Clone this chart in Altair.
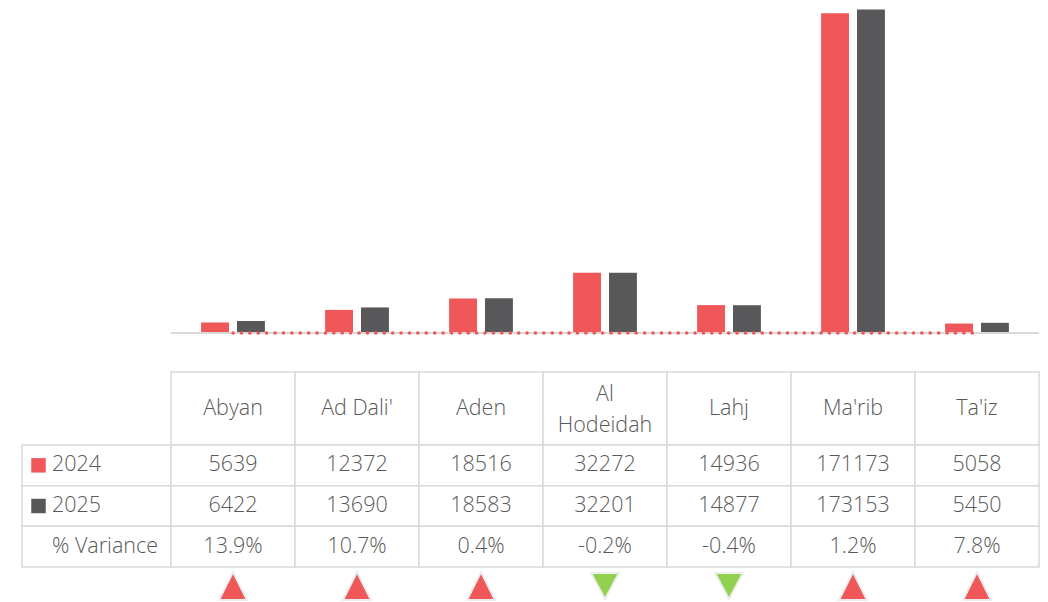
import altair as alt
import pandas as pd

# ---- data ----
regions = ["Abyan", "Ad Dali'", "Aden", "Al Hodeidah", "Lahj", "Ma'rib", "Ta'iz"]
values_2024 = [5639, 12372, 18516, 32272, 14936, 171173, 5058]
values_2025 = [6422, 13690, 18583, 32201, 14877, 173153, 5450]
variance_pct = [13.9, 10.7, 0.4, -0.2, -0.4, 1.2, 7.8]
years = ["2024", "2025"]
row_names = ["2024", "2025", "% Variance"]

# ---- styles ----
RED = "#EF5759"
DARK = "#58585A"
GREEN = "#92D050"
GRID = "#D9D9D9"
TEXT = "#595959"
FONT = "Open Sans"
FS = 21.5
W = 868

bars_df = pd.DataFrame({
    "region": regions * 2,
    "year": [years[0]] * len(regions) + [years[1]] * len(regions),
    "value": values_2024 + values_2025,
})
var_df = pd.DataFrame({"region": regions, "variance": [v / 100 for v in variance_pct]})

cells = []
for r, a, b, v in zip(regions, values_2024, values_2025, variance_pct):
    cells.append({"region": r, "row": row_names[0], "text": str(a)})
    cells.append({"region": r, "row": row_names[1], "text": str(b)})
    cells.append({"region": r, "row": row_names[2], "text": f"{v:.1f}%"})
cells_df = pd.DataFrame(cells)
hdr_df = pd.DataFrame({"region": regions})
lab_df = pd.DataFrame({"row": row_names})

x_scale = alt.Scale(domain=regions, paddingInner=0, paddingOuter=0)
color_scale = alt.Scale(domain=years, range=[RED, DARK])

# ---- top: grouped bars ----
bars = alt.Chart(bars_df).mark_bar().encode(
    x=alt.X("region:N", scale=x_scale, axis=None),
    xOffset=alt.XOffset("year:N", scale=alt.Scale(domain=years, paddingInner=0.222, paddingOuter=0.839)),
    y=alt.Y("value:Q", scale=alt.Scale(domain=[0, 174000], nice=False), axis=None),
    color=alt.Color("year:N", scale=color_scale, legend=None),
)
base_rule = alt.Chart(hdr_df).mark_rule(color=GRID, strokeWidth=1.5).encode(y=alt.datum(0))
var_line = alt.Chart(var_df).mark_line(
    color=RED, strokeWidth=3.5, strokeDash=[0.1, 8.3], strokeCap="round"
).encode(
    x=alt.X("region:N", scale=x_scale, axis=None),
    y=alt.Y("variance:Q"),
)
top = alt.layer(bars, base_rule, var_line).properties(width=W, height=325)

# ---- bottom: data table ----
tx = alt.X("region:N", scale=x_scale, axis=None)
ty = alt.Y("row:N", scale=alt.Scale(domain=row_names, paddingInner=0, paddingOuter=0), axis=None)
cell_style = dict(fill="white", stroke=GRID, strokeWidth=1.5)
text_style = dict(font=FONT, fontSize=FS, fontWeight=300, color=TEXT)

body_cells = alt.Chart(cells_df).mark_rect(**cell_style).encode(x=tx, y=ty)
body_text = alt.Chart(cells_df).mark_text(**text_style).encode(x=tx, y=ty, text="text:N")

hdr_cells = alt.Chart(hdr_df).mark_rect(**cell_style).encode(
    x=tx, y=alt.value(-73), y2=alt.value(0)
)
hdr_base = alt.Chart(hdr_df).transform_calculate(
    label="replace(datum.region, 'Al ', 'Al\\n')"
)
hdr_text1 = hdr_base.transform_filter("indexof(datum.label, '\\n') < 0").mark_text(
    **text_style
).encode(x=tx, y=alt.value(-36.5), text="label:N")
hdr_text2 = hdr_base.transform_filter("indexof(datum.label, '\\n') >= 0").mark_text(
    lineBreak="\n", lineHeight=31, **text_style
).encode(x=tx, y=alt.value(-50), text="label:N")

lab_cells = alt.Chart(lab_df).mark_rect(**cell_style).encode(
    x=alt.value(-149), x2=alt.value(0), y=ty
)
lab_sq = alt.Chart(lab_df).transform_filter(
    alt.FieldOneOfPredicate(field="row", oneOf=years)
).mark_square(size=210, opacity=1).encode(
    x=alt.value(-132.5), y=ty, color=alt.Color("row:N", scale=color_scale, legend=None)
)
lab_text = alt.Chart(lab_df).mark_text(align="left", **text_style).encode(
    x=alt.value(-119), y=ty, text="row:N"
)

UP = "M0,-1L1,1L-1,1Z"
DOWN = "M-1,-0.93L1,-0.93L0,0.93Z"
tri_up = alt.Chart(var_df).transform_filter("datum.variance >= 0").mark_point(
    shape=UP, size=784, filled=True, fill=RED, stroke="#EDEDED", strokeWidth=2, opacity=1
).encode(x=tx, y=alt.value(141))
tri_down = alt.Chart(var_df).transform_filter("datum.variance < 0").mark_point(
    shape=DOWN, size=784, filled=True, fill=GREEN, stroke="#EDEDED", strokeWidth=2, opacity=1
).encode(x=tx, y=alt.value(141))

table = alt.layer(
    hdr_cells, hdr_text1, hdr_text2, lab_cells, lab_sq, lab_text, body_cells, body_text,
    tri_up, tri_down
).properties(width=W, height=122)

chart = alt.vconcat(top, table, spacing=30).properties(
    padding={"left": 13, "top": 0, "right": 0, "bottom": 0}
).configure_view(stroke=None)

chart.save("out.html", embed_options={"renderer": "svg", "actions": False})
